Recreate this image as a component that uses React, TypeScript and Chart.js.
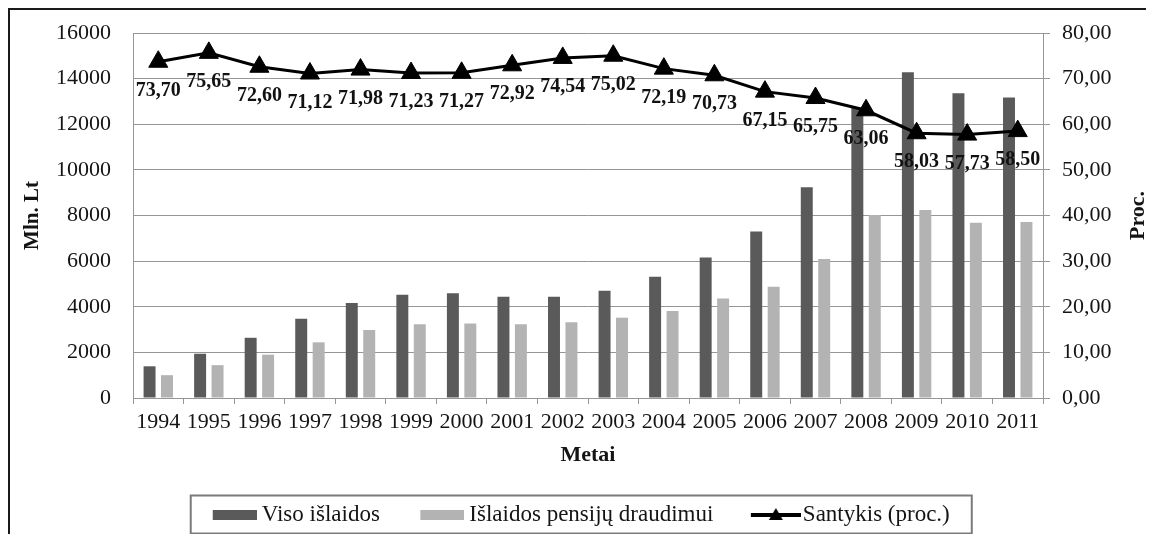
import React, { useEffect, useRef } from 'react';
import { Chart, registerables } from 'chart.js';

Chart.register(...registerables);

// ---- Data ----
const years = ['1994', '1995', '1996', '1997', '1998', '1999', '2000', '2001', '2002', '2003', '2004', '2005', '2006', '2007', '2008', '2009', '2010', '2011'];
const totalSpending = [1390, 1940, 2640, 3470, 4160, 4530, 4590, 4440, 4440, 4700, 5320, 6160, 7300, 9240, 12720, 14280, 13360, 13170];
const pensionSpending = [1000, 1440, 1900, 2440, 2980, 3230, 3270, 3230, 3320, 3520, 3810, 4360, 4880, 6090, 8020, 8240, 7680, 7720];
const ratioPct = [73.70, 75.65, 72.60, 71.12, 71.98, 71.23, 71.27, 72.92, 74.54, 75.02, 72.19, 70.73, 67.15, 65.75, 63.06, 58.03, 57.73, 58.50];
const seriesNames = ['Viso išlaidos', 'Išlaidos pensijų draudimui', 'Santykis (proc.)'];
const leftAxisTitle = 'Mln. Lt';
const rightAxisTitle = 'Proc.';
const xAxisTitle = 'Metai';

const FONT = "'Liberation Serif', 'Times New Roman', serif";
const DARK = '#5a5a5a';
const LIGHT = '#b3b3b3';
const GRID = '#969696';
const TEXT = '#141414';

const fmtPct = (v: number) => v.toFixed(2).replace('.', ',');

function makeRectIcon(color: string): HTMLCanvasElement {
  const c = document.createElement('canvas');
  c.width = 57;
  c.height = 23;
  const g = c.getContext('2d')!;
  g.fillStyle = color;
  g.fillRect(13, 7, 44, 10);
  return c;
}

function makeLineIcon(): HTMLCanvasElement {
  const c = document.createElement('canvas');
  c.width = 63;
  c.height = 23;
  const g = c.getContext('2d')!;
  g.strokeStyle = '#000';
  g.lineWidth = 4;
  g.beginPath();
  g.moveTo(13, 12);
  g.lineTo(63, 12);
  g.stroke();
  g.fillStyle = '#000';
  g.beginPath();
  g.moveTo(38, 5);
  g.lineTo(45, 17);
  g.lineTo(31, 17);
  g.closePath();
  g.fill();
  return c;
}

const valueLabelsPlugin = {
  id: 'valueLabels',
  afterDatasetsDraw(chart: any) {
    const meta = chart.getDatasetMeta(2);
    const ctx = chart.ctx;
    ctx.save();
    ctx.font = `bold 20px ${FONT}`;
    ctx.fillStyle = '#111';
    ctx.textAlign = 'center';
    ctx.textBaseline = 'middle';
    meta.data.forEach((pt: any, i: number) => {
      ctx.fillText(fmtPct(ratioPct[i]), pt.x, pt.y + 29);
    });
    ctx.restore();
  },
};

const decorPlugin = {
  id: 'decor',
  afterDraw(chart: any) {
    const ctx = chart.ctx;
    // right axis title, reading bottom-to-top
    const ca = chart.chartArea;
    ctx.save();
    ctx.translate(1128.5, (ca.top + ca.bottom) / 2);
    ctx.rotate(-Math.PI / 2);
    ctx.font = `bold 22px ${FONT}`;
    ctx.fillStyle = TEXT;
    ctx.textAlign = 'center';
    ctx.textBaseline = 'middle';
    ctx.fillText(rightAxisTitle, 0, 0);
    ctx.restore();

    // legend frame
    const lg = chart.legend;
    const hb = lg && lg.legendHitBoxes;
    if (hb && hb.length) {
      const first = hb[0];
      const last = hb[hb.length - 1];
      const left = first.left + 6.5 - 22;
      const right = last.left + last.width + 22;
      const cy = first.top + first.height / 2;
      ctx.save();
      ctx.strokeStyle = '#7a7a7a';
      ctx.lineWidth = 2;
      ctx.strokeRect(left, cy - 19, right - left, 38);
      ctx.restore();
    }
  },
};

export default function App() {
  const canvasRef = useRef<HTMLCanvasElement | null>(null);

  useEffect(() => {
    const canvas = canvasRef.current;
    if (!canvas) return;
    const icons = [makeRectIcon(DARK), makeRectIcon(LIGHT), makeLineIcon()];

    const chart = new Chart(canvas, {
      type: 'bar',
      data: {
        labels: years,
        datasets: [
          {
            type: 'bar',
            label: seriesNames[0],
            data: totalSpending,
            backgroundColor: DARK,
            yAxisID: 'y',
            order: 1,
            categoryPercentage: 0.69,
            barPercentage: 0.686,
          },
          {
            type: 'bar',
            label: seriesNames[1],
            data: pensionSpending,
            backgroundColor: LIGHT,
            yAxisID: 'y',
            order: 2,
            categoryPercentage: 0.69,
            barPercentage: 0.686,
          },
          {
            type: 'line',
            label: seriesNames[2],
            data: ratioPct,
            borderColor: '#000',
            backgroundColor: '#000',
            borderWidth: 3,
            pointStyle: 'triangle',
            pointRadius: 11,
            pointBackgroundColor: '#000',
            pointBorderColor: '#000',
            pointBorderWidth: 1,
            tension: 0,
            yAxisID: 'y1',
            order: 0,
          },
        ] as any,
      },
      options: {
        responsive: false,
        animation: false,
        devicePixelRatio: 1,
        layout: { autoPadding: false, padding: { top: 23, left: 0, right: 0, bottom: -2 } },
        plugins: {
          tooltip: { enabled: false },
          legend: {
            position: 'bottom',
            align: 'center',
            labels: {
              usePointStyle: true,
              pointStyleWidth: 44,
              padding: 34,
              color: TEXT,
              font: { family: FONT, size: 23 },
              generateLabels: () =>
                seriesNames.map((name, i) => ({
                  text: name,
                  pointStyle: icons[i],
                  fillStyle: 'rgba(0,0,0,0)',
                  strokeStyle: 'rgba(0,0,0,0)',
                  lineWidth: 0,
                  hidden: false,
                  datasetIndex: i,
                  fontColor: TEXT,
                })) as any,
            },
          },
        },
        scales: {
          x: {
            afterFit: (s: any) => {
              s.height = 71;
            },
            grid: {
              drawOnChartArea: false,
              drawTicks: true,
              tickLength: 6,
              offset: true,
              color: GRID,
            },
            border: { display: true, color: GRID, width: 1 },
            ticks: {
              autoSkip: false,
              maxRotation: 0,
              minRotation: 0,
              padding: 5,
              color: TEXT,
              font: { family: FONT, size: 22 },
            },
            title: {
              display: true,
              text: xAxisTitle,
              color: TEXT,
              font: { family: FONT, size: 22, weight: 'bold' },
              padding: { top: 0, bottom: 0 },
            },
          },
          y: {
            position: 'left',
            min: 0,
            max: 16000,
            afterFit: (s: any) => {
              s.width = 123;
            },
            grid: {
              color: GRID,
              lineWidth: 1,
              drawTicks: true,
              tickLength: 22,
              tickColor: 'rgba(0,0,0,0)',
            },
            border: { display: true, color: GRID, width: 1 },
            ticks: {
              stepSize: 2000,
              padding: 0,
              color: TEXT,
              font: { family: FONT, size: 22, lineHeight: 1 },
              callback: (v: any) => String(v),
            },
            title: {
              display: true,
              text: leftAxisTitle,
              color: TEXT,
              font: { family: FONT, size: 21, weight: 'bold' },
              padding: { top: 10, bottom: 0 },
            },
          },
          y1: {
            position: 'right',
            min: 0,
            max: 80,
            afterFit: (s: any) => {
              s.width = 103;
            },
            grid: {
              drawOnChartArea: false,
              drawTicks: true,
              tickLength: 7,
              color: GRID,
            },
            border: { display: true, color: GRID, width: 1 },
            ticks: {
              stepSize: 10,
              padding: 12,
              color: TEXT,
              font: { family: FONT, size: 22, lineHeight: 1 },
              callback: (v: any) => fmtPct(Number(v)),
            },
          },
        },
      } as any,
      plugins: [valueLabelsPlugin, decorPlugin],
    });

    return () => chart.destroy();
  }, []);

  return (
    <div
      style={{
        width: 1146,
        height: 526,
        borderTop: '2px solid #1a1a1a',
        borderLeft: '2px solid #1a1a1a',
        boxSizing: 'border-box',
        background: '#fff',
      }}
    >
      <canvas ref={canvasRef} width={1136} height={524} style={{ display: 'block' }} />
    </div>
  );
}
